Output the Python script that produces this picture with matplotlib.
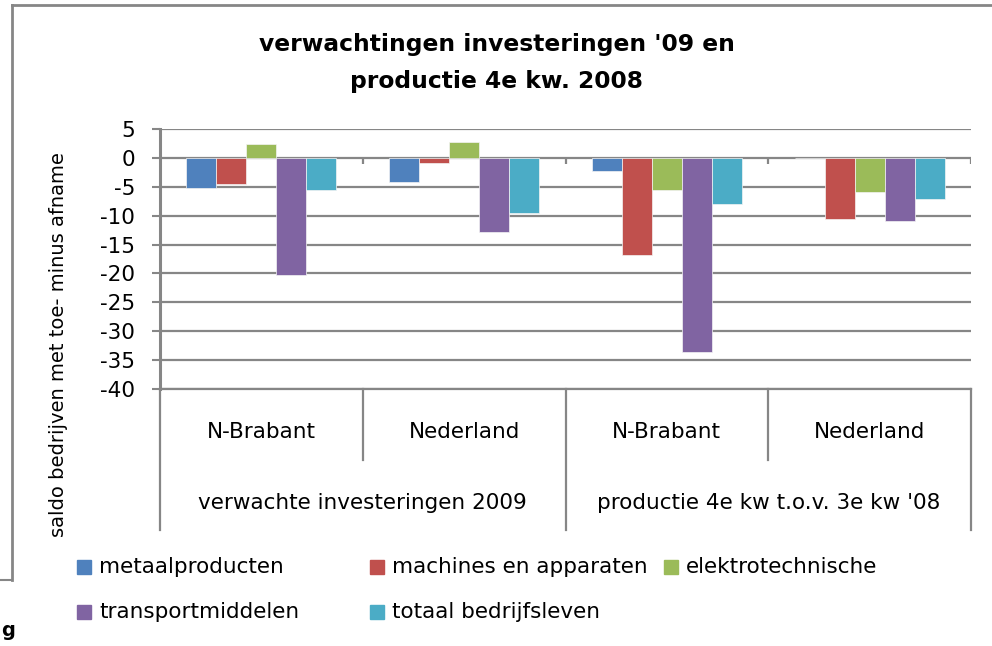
import matplotlib
matplotlib.use("Agg")
import matplotlib.pyplot as plt
import numpy as np
from matplotlib.patches import Rectangle
from matplotlib.lines import Line2D

plt.rcParams['font.family'] = ['DejaVu Sans']

groups = ["N-Brabant", "Nederland", "N-Brabant", "Nederland"]
supergroups = ["verwachte investeringen 2009", "productie 4e kw t.o.v. 3e kw '08"]
series = ["metaalproducten", "machines en apparaten", "elektrotechnische",
          "transportmiddelen", "totaal bedrijfsleven"]
metaal = [-5.2, -4.2, -2.2, 0.0]
machines = [-4.5, -0.9, -16.8, -10.5]
elektro = [2.4, 2.7, -5.5, -5.9]
transport = [-20.3, -12.8, -33.6, -10.9]
totaal = [-5.5, -9.5, -7.9, -7.2]
values = [metaal, machines, elektro, transport, totaal]
colors = ["#4F81BD", "#C0504D", "#9BBB59", "#8064A2", "#4BACC6"]
yticks = list(range(-40, 6, 5))
title = "verwachtingen investeringen '09 en\nproductie 4e kw. 2008"
ylabel = "saldo bedrijven met toe- minus afname"

W, H = 992, 646
fig = plt.figure(figsize=(W/100, H/100), dpi=100)
grey = "#868686"

# outer chart border (partially visible)
fig.add_artist(Line2D([12/W, 12/W], [1-5/H, 1-580/H], color=grey, lw=2, transform=fig.transFigure))
fig.add_artist(Line2D([12/W, 1], [1-5/H, 1-5/H], color=grey, lw=2, transform=fig.transFigure))
fig.add_artist(Line2D([0, 12/W], [1-580/H, 1-580/H], color=grey, lw=1.5, transform=fig.transFigure))
fig.text(1/W, 1-636/H, "g", fontsize=14, fontweight='bold', ha='left', va='baseline')

ax = fig.add_axes([160/W, 1-389/H, 811/W, 260/H])
n = len(series)
bw = 0.148
x = np.arange(len(groups))
for i, (vals, c) in enumerate(zip(values, colors)):
    ax.bar(x + (i - (n-1)/2)*bw, vals, width=bw, color=c, edgecolor='#f4f4f4',
           linewidth=0.5, zorder=3, label=series[i])

ax.set_xlim(-0.5, len(groups)-0.5)
ax.set_ylim(-40, 5)
ax.set_yticks(yticks)
ax.set_yticklabels([str(t) for t in yticks], fontsize=15.5)
ax.yaxis.grid(True, color=grey, lw=1.6, zorder=0)
ax.set_axisbelow(True)
for s in ['top', 'right']:
    ax.spines[s].set_visible(False)
ax.spines['left'].set_color(grey)
ax.spines['left'].set_linewidth(2.2)
ax.spines['bottom'].set_color(grey)
ax.spines['bottom'].set_linewidth(1.6)
ax.tick_params(axis='y', length=6, width=1.5, color=grey, pad=12)
ax.set_xticks([])

# zero-line category ticks
bounds = np.arange(len(groups)+1) - 0.5
ax.vlines(bounds[1:], -1.0, 0, color=grey, lw=1.6, zorder=4)

# multi-level category labels
tr = ax.get_xaxis_transform()
for b in bounds:
    idx = int(b + 0.5)
    low = -0.542 if idx % 2 == 0 else -0.273
    ax.plot([b, b], [0, low], color=grey, lw=1.6, transform=tr, clip_on=False)
for gi, g in enumerate(groups):
    ax.text(gi, -0.165, g, transform=tr, ha='center', va='center', fontsize=15.5)
for si, sg in enumerate(supergroups):
    ax.text(2*si + 0.5, -0.438, sg, transform=tr, ha='center', va='center', fontsize=15.5)

ax.set_ylabel(ylabel, fontsize=14)
ax.yaxis.set_label_coords(-(160-68)/811, (389-345)/260)

fig.text(497/W, 1-63/H, title, ha='center', va='center', fontsize=16.8,
         fontweight='bold', linespacing=1.75)

# legend (row-major, Excel style)
leg_x = [77, 370, 664, 77, 370]
leg_y = [567, 567, 567, 612, 612]
sq = 14
for lbl, c, lx, ly in zip(series, colors, leg_x, leg_y):
    fig.add_artist(Rectangle((lx/W, 1-(ly+sq/2)/H), sq/W, sq/H, color=c,
                             transform=fig.transFigure))
    fig.text((lx+22)/W, 1-ly/H, lbl, fontsize=15.5, ha='left', va='center')

fig.savefig("out.png", dpi=100)
